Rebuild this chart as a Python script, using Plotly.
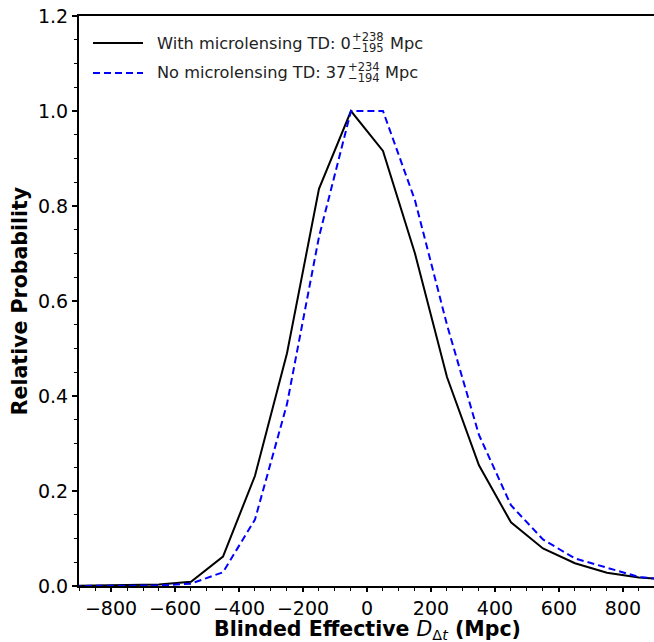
import plotly.graph_objects as go

x_vals = [-950, -850, -750, -650, -550, -450, -350, -250, -150, -50,
          50, 150, 250, 350, 450, 550, 650, 750, 850, 950]
with_micro = [0.0, 0.0005, 0.001, 0.003, 0.009, 0.062, 0.232, 0.49, 0.836, 1.0,
              0.916, 0.70, 0.44, 0.254, 0.134, 0.079, 0.048, 0.028, 0.018, 0.013]
no_micro = [0.0, 0.0, 0.0005, 0.001, 0.005, 0.029, 0.14, 0.383, 0.735, 1.0,
            1.0, 0.812, 0.55, 0.318, 0.17, 0.098, 0.058, 0.039, 0.019, 0.012]

label_with = "With microlensing TD: 0"
sup_with, sub_with = "+238", "\u2212195"
label_no = "No microlensing TD: 37"
sup_no, sub_no = "+234", "\u2212194"
x_title = "<b>Blinded Effective </b><i>D</i><sub>Δ<i>t</i></sub><b> (Mpc)</b>"
y_title = "<b>Relative Probability</b>"

FONT = "DejaVu Sans"
W, H = 654, 642
ML, MR, MT, MB = 79, 0, 16, 56
PW, PH = W - ML - MR, H - MT - MB

def px(xp):
    return (xp - ML) / PW

def py(yp):
    return (H - MB - yp) / PH

fig = go.Figure()
fig.add_trace(go.Scatter(x=x_vals, y=with_micro, mode="lines", name="With microlensing",
                         line=dict(color="black", width=2), showlegend=False))
fig.add_trace(go.Scatter(x=x_vals, y=no_micro, mode="lines", name="No microlensing",
                         line=dict(color="#0000ff", width=2, dash="7px,4px"), showlegend=False))

# manual legend (stacked super/subscripts)
shapes = [
    dict(type="line", xref="paper", yref="paper", x0=px(93), x1=px(143), y0=py(43), y1=py(43),
         line=dict(color="black", width=2)),
    dict(type="line", xref="paper", yref="paper", x0=px(93), x1=px(143), y0=py(73), y1=py(73),
         line=dict(color="#0000ff", width=2, dash="7px,4px")),
]
ann = []
def txt(t, x, y, size, anchor, color="#222222"):
    ann.append(dict(text=t, x=px(x), y=py(y), xref="paper", yref="paper", xanchor=anchor,
                    yanchor="middle", showarrow=False, borderpad=0,
                    font=dict(family=FONT, size=size, color=color)))

txt(label_with, 156, 43, 16.2, "left")
txt(sup_with, 351, 37, 11.5, "left")
txt(sub_with, 351, 48, 11.5, "left")
txt("Mpc", 389, 43, 16.2, "left")
txt(label_no, 156, 73, 16.2, "left")
txt(sup_no, 347, 67, 11.5, "left")
txt(sub_no, 347, 78, 11.5, "left")
txt("Mpc", 384, 73, 16.2, "left")
txt(x_title, 367, 630, 20.5, "center", color="black")

fig.update_layout(
    width=W, height=H,
    margin=dict(l=ML, r=MR, t=MT, b=MB, pad=0),
    paper_bgcolor="white", plot_bgcolor="white",
    font=dict(family=FONT, color="black"),
    shapes=shapes, annotations=ann,
    xaxis=dict(range=[-900, 897], tickmode="linear", tick0=0, dtick=200,
               ticks="outside", ticklen=4, tickwidth=1.5, tickcolor="black",
               showline=True, linecolor="black", linewidth=2, mirror=True,
               showgrid=False, zeroline=False, layer="below traces",
               tickfont=dict(family=FONT, size=19, color="black"),
               minor=dict(ticks="outside", ticklen=3, tickwidth=1, tickcolor="black",
                          dtick=50, tick0=0, showgrid=False)),
    yaxis=dict(range=[0, 1.2], tickmode="linear", tick0=0, dtick=0.2, tickformat=".1f",
               ticks="outside", ticklen=5, tickwidth=1.5, tickcolor="black",
               showline=True, linecolor="black", linewidth=2, mirror=False,
               showgrid=False, zeroline=False, layer="below traces",
               tickfont=dict(family=FONT, size=19, color="black"),
               minor=dict(ticks="outside", ticklen=3, tickwidth=1, tickcolor="black",
                          dtick=0.05, tick0=0, showgrid=False),
               title=dict(text=y_title,
                          font=dict(family=FONT, size=20.5, color="black"), standoff=5)),
)

fig.write_html("out.html")
